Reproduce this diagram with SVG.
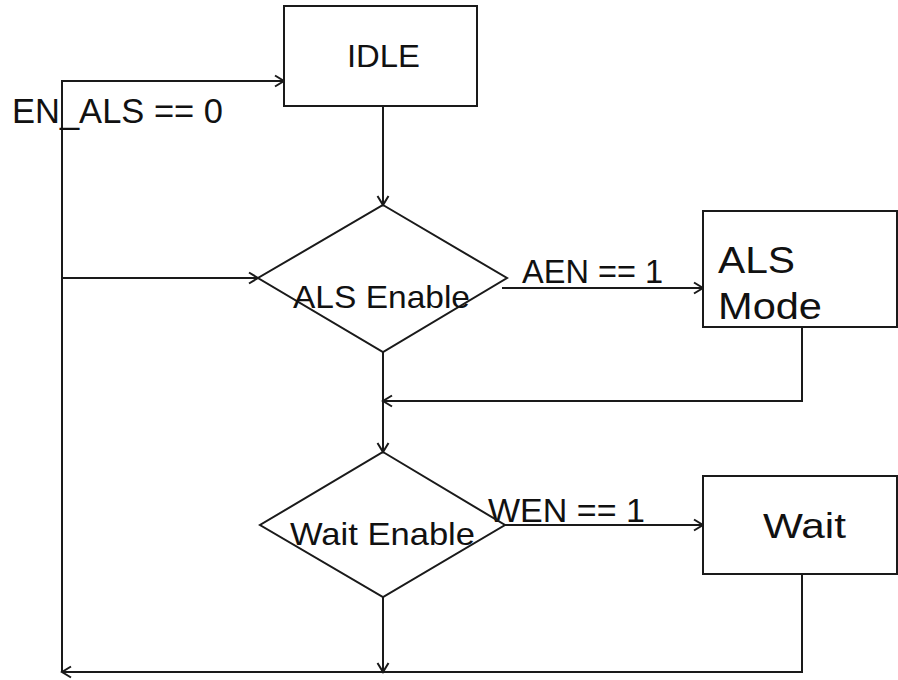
<svg xmlns="http://www.w3.org/2000/svg" width="898" height="680" viewBox="0 0 898 680">
<style>
.box{fill:#fff;stroke:#1a1a1a;stroke-width:2}
.ln{fill:none;stroke:#1a1a1a;stroke-width:2}
.t{font-family:"Liberation Sans",Arial,sans-serif;fill:#111}
</style>
<defs>
<marker id="arr" markerUnits="userSpaceOnUse" markerWidth="14" markerHeight="14" refX="11" refY="7" orient="auto">
<path d="M2,1.5 L11,7 L2,12.5" fill="none" stroke="#1a1a1a" stroke-width="2"/>
</marker>
</defs>
<rect width="898" height="680" fill="#fff"/>
<g id="connectors">
<path class="ln" d="M383,106 V205" marker-end="url(#arr)"/>
<path class="ln" d="M62,672 V81 H284" marker-end="url(#arr)"/>
<path class="ln" d="M62,278 H258" marker-end="url(#arr)"/>
<path class="ln" d="M502,288 H703" marker-end="url(#arr)"/>
<path class="ln" d="M802,327 V401 H383" marker-end="url(#arr)"/>
<path class="ln" d="M383,352 V452" marker-end="url(#arr)"/>
<path class="ln" d="M505,525 H703" marker-end="url(#arr)"/>
<path class="ln" d="M383,597 V672" marker-end="url(#arr)"/>
<path class="ln" d="M802,574 V672 H62" marker-end="url(#arr)"/>
<text class="t" x="12" y="123" font-size="35" textLength="211" lengthAdjust="spacingAndGlyphs">EN_ALS == 0</text>
<text class="t" x="522" y="283" font-size="34" textLength="141" lengthAdjust="spacingAndGlyphs">AEN == 1</text>
<text class="t" x="488" y="522" font-size="34" textLength="157" lengthAdjust="spacingAndGlyphs">WEN == 1</text>
</g>
<g id="idle">
<rect class="box" x="284" y="6" width="193" height="100"/>
<text class="t" x="347" y="67" font-size="32" textLength="73" lengthAdjust="spacingAndGlyphs">IDLE</text>
</g>
<g id="als-enable">
<path class="box" d="M383,205 L507,278 L383,352 L258,278 Z" fill="none" style="fill:none"/>
<text class="t" x="293" y="308" font-size="32" textLength="177" lengthAdjust="spacingAndGlyphs">ALS Enable</text>
</g>
<g id="als-mode">
<rect class="box" x="703" y="211" width="194" height="116"/>
<text class="t" x="718" y="273" font-size="36" textLength="77" lengthAdjust="spacingAndGlyphs">ALS</text>
<text class="t" x="718" y="319" font-size="36" textLength="104" lengthAdjust="spacingAndGlyphs">Mode</text>
</g>
<g id="wait-enable">
<path class="box" d="M383,452 L505,525 L383,597 L260,525 Z" style="fill:none"/>
<text class="t" x="290" y="545" font-size="32" textLength="185" lengthAdjust="spacingAndGlyphs">Wait Enable</text>
</g>
<g id="wait">
<rect class="box" x="703" y="476" width="194" height="98"/>
<text class="t" x="763" y="538" font-size="35" textLength="83" lengthAdjust="spacingAndGlyphs">Wait</text>
</g>
</svg>
